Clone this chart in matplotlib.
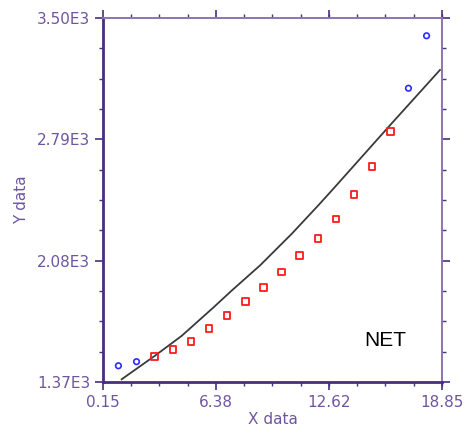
import matplotlib
matplotlib.use("Agg")
import matplotlib.pyplot as plt
from matplotlib.ticker import FixedLocator, AutoMinorLocator

# Data
blue_x = [1, 2, 17, 18]
blue_y = [1465, 1489, 3089, 3396]
red_x = [3, 4, 5, 6, 7, 8, 9, 10, 11, 12, 13, 14, 15, 16]
red_y = [1518, 1561, 1608, 1684, 1760, 1840, 1924, 2014, 2111, 2211, 2324, 2468, 2632, 2835]
fit_x = [1.18, 3.02, 4.49, 6.23, 7.25, 8.81, 10.56, 12.03, 12.85, 15.98, 18.74]
fit_y = [1386, 1524, 1640, 1805, 1905, 2052, 2237, 2404, 2500, 2872, 3196]

xticks = [0.15, 6.38, 12.62, 18.85]
xtick_labels = ["0.15", "6.38", "12.62", "18.85"]
yticks = [1370, 2080, 2790, 3500]
ytick_labels = ["1.37E3", "2.08E3", "2.79E3", "3.50E3"]

dark_purple = "#4a2c80"
light_purple = "#8b74b5"
label_purple = "#6f55a0"

fig = plt.figure(figsize=(4.65, 4.4), dpi=100)
ax = fig.add_axes([0.2215, 0.1318, 0.729, 0.8273])

ax.plot(fit_x, fit_y, color="#3a3a3a", lw=1.3, zorder=2)
ax.scatter(red_x, red_y, marker="s", s=22, facecolors="none",
           edgecolors="#ff1a1a", linewidths=1.3, zorder=3)
ax.scatter(blue_x, blue_y, marker="o", s=16, facecolors="none",
           edgecolors="#2b2bff", linewidths=1.2, zorder=3)

ax.set_xlim(0.15, 18.85)
ax.set_ylim(1370, 3500)

ax.xaxis.set_major_locator(FixedLocator(xticks))
ax.yaxis.set_major_locator(FixedLocator(yticks))
ax.set_xticklabels(xtick_labels)
ax.set_yticklabels(ytick_labels)
ax.xaxis.set_minor_locator(AutoMinorLocator(4))
ax.yaxis.set_minor_locator(AutoMinorLocator(4))

ax.tick_params(axis="both", which="major", direction="out", length=6,
               width=1.2, color=dark_purple, labelcolor=label_purple,
               labelsize=11, top=True, right=True, pad=3)
ax.tick_params(axis="both", which="minor", direction="out", length=3,
               width=1.0, color=dark_purple, top=True, right=True)

for side in ["left", "bottom"]:
    ax.spines[side].set_color(dark_purple)
    ax.spines[side].set_linewidth(2.0)
for side in ["top", "right"]:
    ax.spines[side].set_color(light_purple)
    ax.spines[side].set_linewidth(1.4)

ax.set_xlabel("X data", color=label_purple, fontsize=11, labelpad=2)
ax.set_ylabel("Y data", color=label_purple, fontsize=11, labelpad=6)

ax.text(0.832, 0.113, "NET", transform=ax.transAxes, ha="center", va="center",
        fontsize=15, family="Liberation Sans", color="black")

fig.savefig("out.png", dpi=100)
